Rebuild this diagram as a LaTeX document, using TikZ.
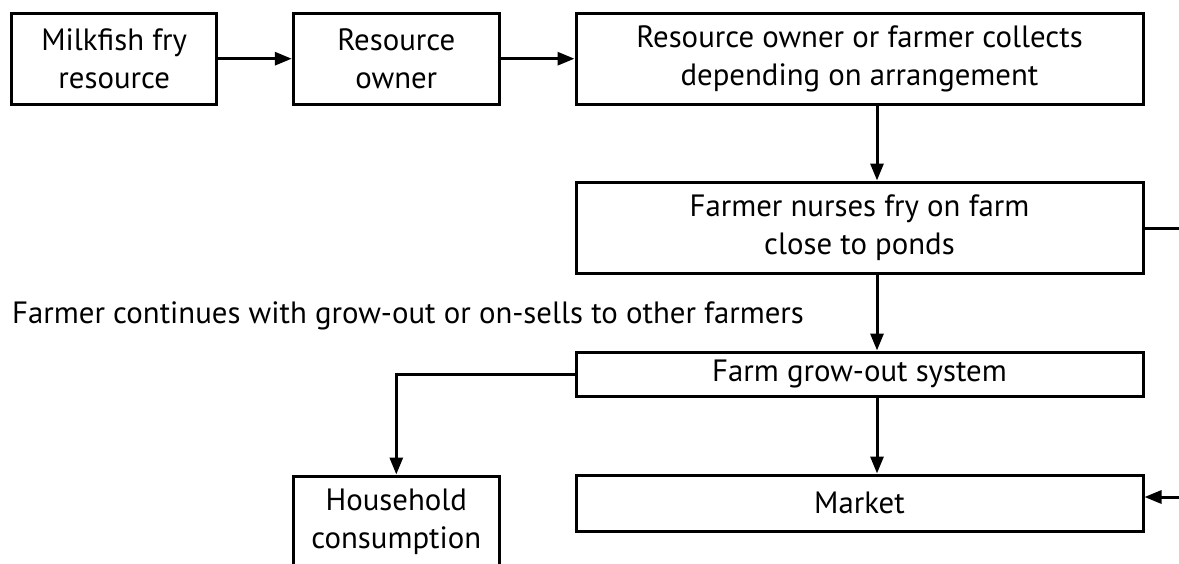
\documentclass[tikz,border=0pt]{standalone}
\usepackage{fontspec}
\setmainfont{PT Sans}
\usetikzlibrary{arrows.meta}
\begin{document}
\begin{tikzpicture}[x=1pt,y=-1pt,
  txt/.style={font=\fontsize{30.8}{38}\selectfont},
  box/.style={txt, draw, line width=3pt, inner sep=0pt, align=center},
  arr/.style={line width=3pt, -{Triangle[length=17pt,width=13pt]}},
  conn/.style={line width=3pt}]
\useasboundingbox (0,0) rectangle (1179,563);
\clip (0,0) rectangle (1179,563);

% top row
\node[box, minimum width=205, minimum height=91] (src) at (114.2,58.7) {Milkfish fry\\resource};
\node[box, minimum width=206, minimum height=91] (own) at (396.3,58.7) {Resource\\owner};
\node[box, minimum width=567, minimum height=91] (col) at (859.5,58.7) {Resource owner or farmer collects\\depending on arrangement};

% central column
\node[box, minimum width=567, minimum height=91] (nur) at (859.5,227.5) {Farmer nurses fry on farm\\close to ponds};
\node[box, minimum width=567, minimum height=44] (grow) at (859.5,374) {Farm grow-out system};
\node[box, minimum width=567, minimum height=56] (mkt) at (859.5,503) {Market};
\node[box, minimum width=206, minimum height=91] (hh) at (396.3,521.5) {Household\\consumption};

% free text
\node[txt, anchor=base west, inner sep=0pt] (lbl) at (12,323) {Farmer continues with grow-out or on-sells to other farmers};

% off-picture ends of the side links
\coordinate (sideout) at (1220,228);
\coordinate (sidein) at (1220,497);

% connectors
\draw[arr] (src.east) -- (own.west);
\draw[arr] (own.east) -- (col.west);
\draw[arr] ([xshift=17.5pt]col.south) -- ([xshift=17.5pt]nur.north);
\draw[arr] ([xshift=17.5pt]nur.south) -- ([xshift=17.5pt]grow.north);
\draw[arr] ([xshift=17.5pt]grow.south) -- ([xshift=17.5pt]mkt.north);
\draw[arr] (grow.west) -| (hh.north);
\draw[conn] (nur.east |- sideout) -- (sideout);
\draw[arr] (sidein) -- (sidein -| mkt.east);
\end{tikzpicture}
\end{document}
